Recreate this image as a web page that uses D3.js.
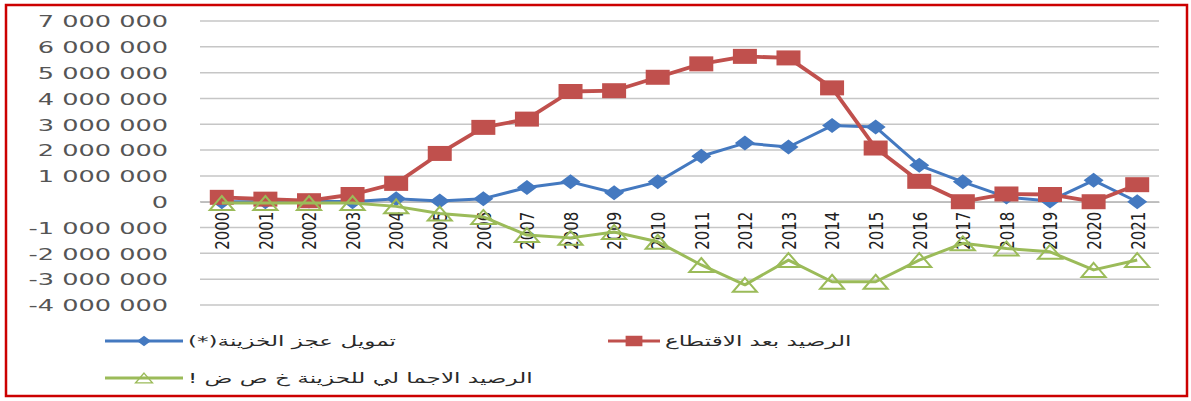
<!DOCTYPE html>
<html>
<head>
<meta charset="utf-8">
<script src="https://cdn.jsdelivr.net/npm/d3@7/dist/d3.min.js"></script>
<style>
  html, body { margin: 0; padding: 0; background: #fff; }
  svg { display: block; }
</style>
</head>
<body>
<svg id="chart" width="1191" height="401"></svg>
<script>
// ---- data ----
const years = ["2000","2001","2002","2003","2004","2005","2006","2007","2008","2009","2010",
               "2011","2012","2013","2014","2015","2016","2017","2018","2019","2020","2021"];
// تمويل عجز الخزينة(*)
const financing = [0, 0, 30000, 0, 120000, 30000, 120000, 550000, 770000, 350000, 770000,
                   1760000, 2270000, 2120000, 2950000, 2890000, 1410000, 770000, 180000, 30000, 830000, 0];
// الرصيد بعد الاقتطاع
const balanceAfter = [170000, 100000, 40000, 280000, 710000, 1870000, 2880000, 3200000, 4270000, 4300000, 4820000,
                      5340000, 5630000, 5570000, 4410000, 2080000, 790000, 0, 300000, 280000, 0, 660000];
// الرصيد الاجمالي للخزينة
const overallBalance = [-50000, -50000, -50000, -50000, -180000, -460000, -590000, -1290000, -1400000, -1170000, -1550000,
                        -2450000, -3220000, -2260000, -3100000, -3100000, -2260000, -1610000, -1810000, -1940000, -2640000, -2260000];
const yTicks = [-4000000, -3000000, -2000000, -1000000, 0, 1000000, 2000000, 3000000, 4000000, 5000000, 6000000, 7000000];
const seriesNames = ["تمويل عجز الخزينة(*)", "الرصيد بعد الاقتطاع", "الرصيد الاجما لي للحزينة خ ص ض !"];

// ---- setup ----
const svg = d3.select("#chart");

svg.append("rect").attr("x", 6).attr("y", 5).attr("width", 1181).attr("height", 391)
  .attr("fill", "#fff").attr("stroke", "#cc0000").attr("stroke-width", 2.5);

const x = d3.scaleBand().domain(years).range([200, 1159]).padding(0);
const cx = d => x(d) + x.bandwidth() / 2;
const y = d3.scaleLinear().domain([-4000000, 7000000]).range([305, 21]);

const loc = d3.formatLocale({ decimal: ".", thousands: " ", grouping: [3], currency: ["", ""], minus: "-" });
const fmt = loc.format(",d");

// gridlines
svg.append("g").selectAll("line").data(yTicks).join("line")
  .attr("x1", 200).attr("x2", 1159)
  .attr("y1", d => y(d)).attr("y2", d => y(d))
  .attr("stroke", "#c6c6c6").attr("stroke-width", 1.5);

// y axis labels
const yAxis = svg.append("g").attr("transform", "translate(168,0)")
  .call(d3.axisLeft(y).tickValues(yTicks).tickSize(0).tickPadding(0).tickFormat(fmt));
yAxis.select(".domain").remove();
yAxis.selectAll("text")
  .attr("x", 0).attr("dy", "0.36em")
  .attr("transform", "scale(1.6,1)")
  .attr("font-family", "'DejaVu Sans', Verdana, sans-serif")
  .attr("font-size", 16).attr("fill", "#555555");

// x axis
const xAxis = svg.append("g").attr("transform", `translate(0,${y(0)})`)
  .call(d3.axisBottom(x).tickSize(0).tickPadding(0));
xAxis.select(".domain").attr("stroke", "#bdbdbd").attr("stroke-width", 1.5);
xAxis.selectAll("text")
  .attr("x", 0).attr("y", 0).attr("dy", "0.36em")
  .attr("text-anchor", "end")
  .attr("transform", "translate(0,10) scale(1.35,1) rotate(-90)")
  .attr("font-family", "'DejaVu Sans', sans-serif")
  .attr("font-size", 15).attr("fill", "#222");

// marker shapes
const diamond = (w, h) => `M0,${-h/2}L${w/2},0L0,${h/2}L${-w/2},0Z`;
const square = (w, h) => `M${-w/2},${-h/2}H${w/2}V${h/2}H${-w/2}Z`;
const triangle = (w, h) => `M0,${-h/2}L${w/2},${h/2}L${-w/2},${h/2}Z`;

const series = [
  { name: seriesNames[0], values: financing, color: "#4479c0", width: 3, shape: diamond(20, 15), fill: "#4479c0", stroke: "none" },
  { name: seriesNames[1], values: balanceAfter, color: "#c0504d", width: 3.8, shape: square(24, 15), fill: "#c0504d", stroke: "none" },
  { name: seriesNames[2], values: overallBalance, color: "#9bbb59", width: 3, shape: triangle(24, 14), fill: "none", stroke: "#9bbb59" }
];

const line = d3.line().x((d, i) => cx(years[i])).y(d => y(d));

series.forEach(s => {
  const g = svg.append("g");
  g.append("path").attr("d", line(s.values)).attr("fill", "none")
    .attr("stroke", s.color).attr("stroke-width", s.width).attr("stroke-linejoin", "round");
  g.selectAll("path.m").data(s.values).join("path").attr("class", "m")
    .attr("d", s.shape)
    .attr("transform", (d, i) => `translate(${cx(years[i])},${y(d)})`)
    .attr("fill", s.fill).attr("stroke", s.stroke).attr("stroke-width", 2);
});

// legend
const legendPos = [
  { lx1: 105, lx2: 183, ty: 341, tx1: 188 },
  { lx1: 608, lx2: 660, ty: 341, tx1: 665 },
  { lx1: 105, lx2: 183, ty: 378, tx1: 188 }
];
series.forEach((s, i) => {
  const p = legendPos[i];
  const g = svg.append("g");
  g.append("line").attr("x1", p.lx1).attr("x2", p.lx2).attr("y1", p.ty).attr("y2", p.ty)
    .attr("stroke", s.color).attr("stroke-width", 3);
  g.append("path").attr("d", s.shape)
    .attr("transform", `translate(${(p.lx1 + p.lx2) / 2},${p.ty}) scale(0.7)`)
    .attr("fill", s.fill).attr("stroke", s.stroke).attr("stroke-width", 2);
  g.append("text")
    .attr("direction", "rtl")
    .attr("text-anchor", "end")
    .attr("x", 0).attr("y", 0).attr("dy", "0.35em")
    .attr("transform", `translate(${p.tx1},${p.ty}) scale(1.65,1)`)
    .attr("font-family", "'DejaVu Sans', 'Noto Sans', sans-serif")
    .attr("font-size", 14).attr("fill", "#2a2a2a")
    .text(s.name);
});
</script>
</body>
</html>
